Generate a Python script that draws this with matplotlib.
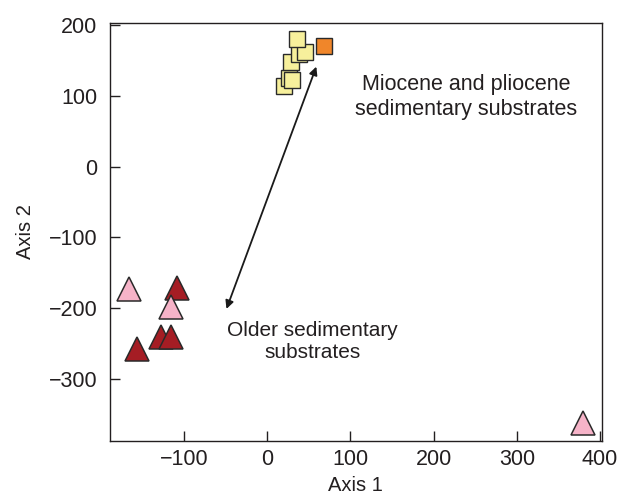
import matplotlib
matplotlib.use("Agg")
import matplotlib.pyplot as plt

plt.rcParams['font.family'] = ['Liberation Sans', 'DejaVu Sans']

# Miocene / pliocene substrates (squares)
yellow_x = [20, 26, 30, 28, 38, 45, 36]
yellow_y = [113, 125, 122, 148, 159, 162, 180]
orange_x = [68]
orange_y = [170]

# Older substrates (triangles), listed in drawing order
tri_x = [-166, -108, -116, -157, -128, -116, 379]
tri_y = [-173, -171, -198, -258, -240, -240, -362]
tri_kind = ['pink', 'red', 'pink', 'red', 'red', 'red', 'pink']

arrow_start = (-49, -201)
arrow_end = (59, 141)

colors = {'pink': '#f6b3c8', 'red': '#a51d24', 'yellow': '#f7f09c', 'orange': '#f0862a'}

fig = plt.figure(figsize=(6.22, 4.97), dpi=100)
ax = fig.add_axes([0.1768, 0.1133, 0.7906, 0.841])

for x, y, k in zip(tri_x, tri_y, tri_kind):
    ax.plot(x, y, marker='^', markersize=17, color=colors[k],
            markeredgecolor='#2a2a2a', markeredgewidth=1.1, linestyle='none')

for x, y in zip(yellow_x, yellow_y):
    ax.plot(x, y, marker='s', markersize=11.5, color=colors['yellow'],
            markeredgecolor='#2a2a2a', markeredgewidth=1.0, linestyle='none')
ax.plot(orange_x, orange_y, marker='s', markersize=11.5, color=colors['orange'],
        markeredgecolor='#2a2a2a', markeredgewidth=1.0, linestyle='none')

ax.annotate('', xy=arrow_end, xytext=arrow_start,
            arrowprops=dict(arrowstyle='<|-|>', color='#1a1a1a', lw=1.3,
                            mutation_scale=12, shrinkA=0, shrinkB=0))

ax.text(239, 98, 'Miocene and pliocene\nsedimentary substrates', ha='center', va='center',
        fontsize=15.5, color='#231f20', linespacing=1.25)
ax.text(54, -247, 'Older sedimentary\nsubstrates', ha='center', va='center',
        fontsize=15, color='#231f20', linespacing=1.25)

ax.set_xlim(-189, 402)
ax.set_ylim(-387, 203)
ax.set_xticks([-100, 0, 100, 200, 300, 400])
ax.set_yticks([-300, -200, -100, 0, 100, 200])
ax.set_xticklabels(['\u2212100', '0', '100', '200', '300', '400'])
ax.set_yticklabels(['\u2212300', '\u2212200', '\u2212100', '0', '100', '200'])
ax.tick_params(direction='in', length=7, width=1, labelsize=15.5, colors='#231f20')
ax.tick_params(axis='x', pad=6)
ax.tick_params(axis='y', pad=9)
for s in ax.spines.values():
    s.set_linewidth(1)
    s.set_color('#231f20')

ax.set_xlabel('Axis 1', fontsize=14.5, color='#231f20', labelpad=4.5)
ax.set_ylabel('Axis 2', fontsize=14.5, color='#231f20', labelpad=10)

fig.savefig('out.png', dpi=100)
